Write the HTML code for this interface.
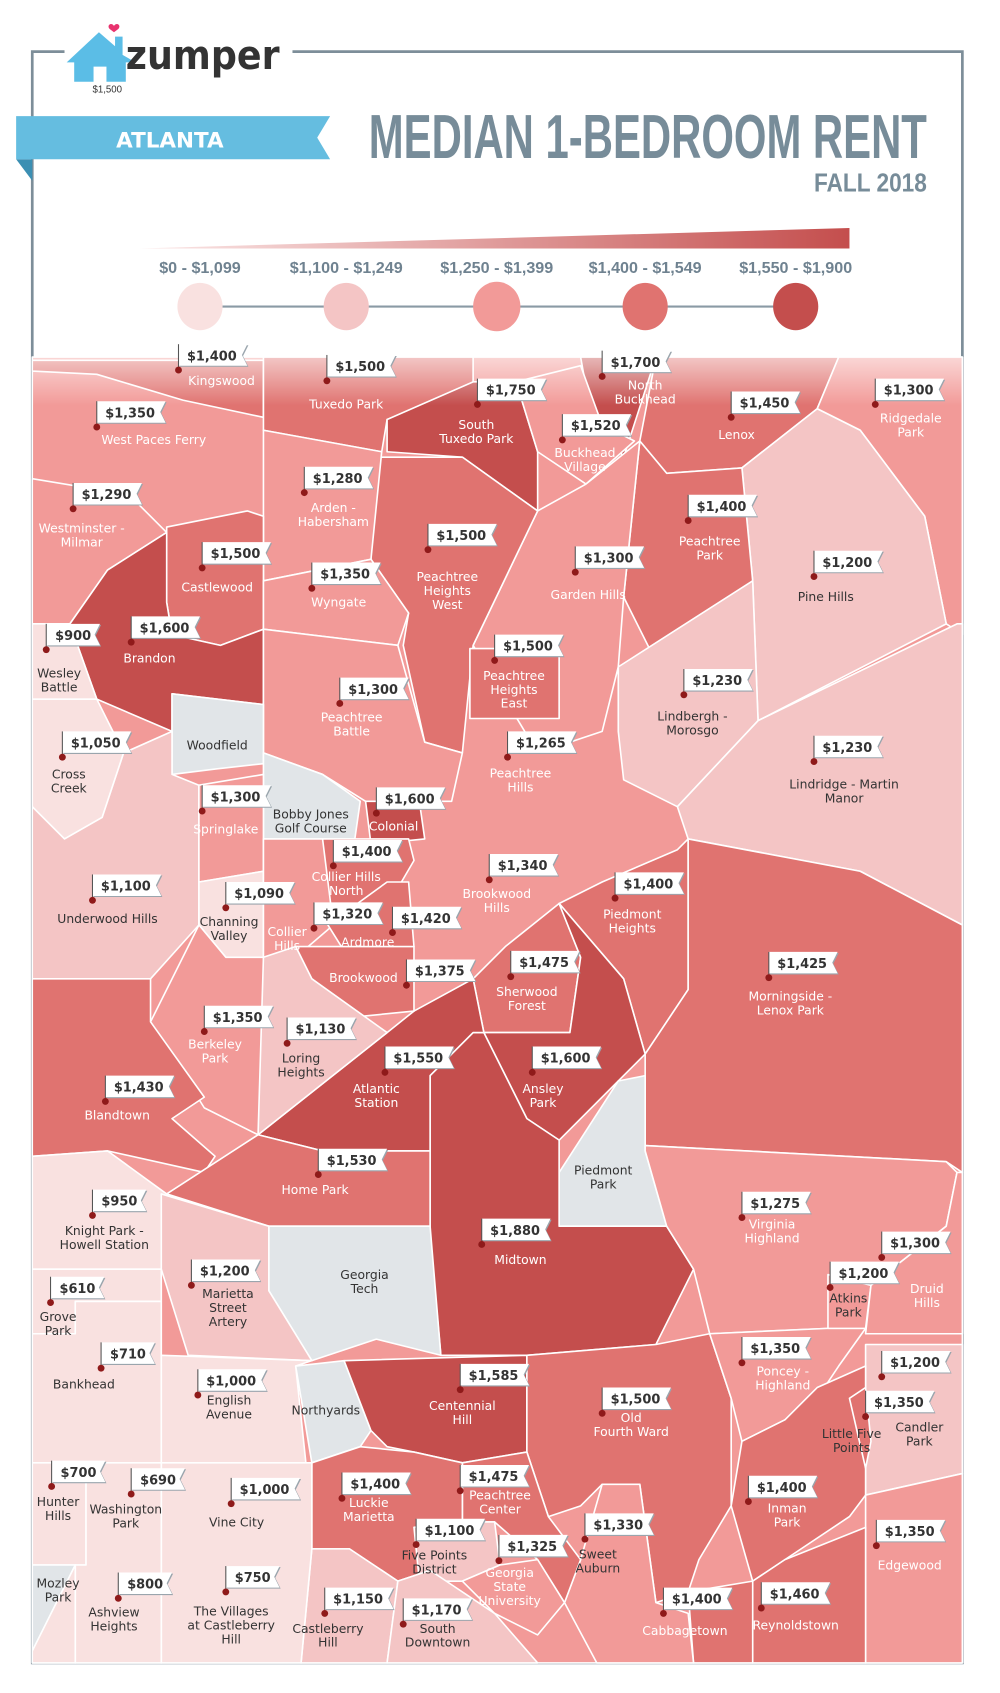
<!DOCTYPE html>
<html><head><meta charset="utf-8"><style>
html,body{margin:0;padding:0;background:#fff}
svg{display:block}
.fl{font:bold 12px "DejaVu Sans","Liberation Sans",sans-serif;fill:#333;text-anchor:middle}
.w{font:11.5px "DejaVu Sans","Liberation Sans",sans-serif;fill:#fff;text-anchor:middle}
.d{font:11.5px "DejaVu Sans","Liberation Sans",sans-serif;fill:#333;text-anchor:middle}
.m polygon{stroke:#fff;stroke-width:1.5;stroke-linejoin:round}
</style></head><body>
<svg width="1000" height="1693" viewBox="0 0 930 1574" preserveAspectRatio="none" xmlns="http://www.w3.org/2000/svg">
<defs>
<linearGradient id="gr" x1="0" x2="1"><stop offset="0" stop-color="#fbe8e8"/><stop offset="1" stop-color="#c44e4d"/></linearGradient>
<linearGradient id="fade" x1="0" y1="0" x2="0" y2="1"><stop offset="0" stop-color="#fff" stop-opacity=".6"/><stop offset="1" stop-color="#fff" stop-opacity="0"/></linearGradient>
<g id="f"><path d="M1 1h64l-5 10 5 10h-64z" fill="#9aa5ad"/><path d="M0 0h64l-5 10 5 10h-64z" fill="#fff"/><line x1="0" y1="0" x2="0" y2="24" stroke="#555" stroke-width="1"/><circle cx="0" cy="24" r="3.2" fill="#8f1a1a"/></g>
<g id="s"><path d="M1 1h50l-5 10 5 10h-50z" fill="#9aa5ad"/><path d="M0 0h50l-5 10 5 10h-50z" fill="#fff"/><line x1="0" y1="0" x2="0" y2="24" stroke="#555" stroke-width="1"/><circle cx="0" cy="24" r="3.2" fill="#8f1a1a"/></g>
</defs>
<!-- frame -->
<g stroke="#7d8e99" stroke-width="2.5" fill="none">
<path d="M60 48H30V1546H895V48H272"/>
</g>
<!-- logo -->
<path d="M62 58L92 30 107 43V34h7v17l12 7h-9v18h-18v-14h-12v14h-18V58z" fill="#5bbde6"/>
<path d="M106 24c-3-4-7 0-4 3l4 3 4-3c3-3-1-7-4-3z" fill="#e8336f"/>
<text x="117" y="64" font-family="'DejaVu Sans','Liberation Sans',sans-serif" font-weight="bold" font-size="37" fill="#333" textLength="143" lengthAdjust="spacingAndGlyphs">zumper</text>
<text x="86" y="86" font-family="'Liberation Sans',sans-serif" font-size="9" fill="#333">$1,500</text>
<!-- ribbon -->
<path d="M15 148H30V168z" fill="#3b8fb3"/>
<path d="M15 108H307L295 128 307 148H15z" fill="#65bde0"/>
<text x="158" y="137" font-family="'DejaVu Sans','Liberation Sans',sans-serif" font-weight="bold" font-size="20" fill="#fff" text-anchor="middle" textLength="100" lengthAdjust="spacingAndGlyphs">ATLANTA</text>
<text x="343" y="147" font-family="'Liberation Sans Narrow','Liberation Sans',sans-serif" font-weight="bold" font-size="58" fill="#778c99" textLength="519" lengthAdjust="spacingAndGlyphs">MEDIAN 1-BEDROOM RENT</text>
<text x="862" y="178" font-family="'Liberation Sans Narrow','Liberation Sans',sans-serif" font-weight="bold" font-size="24" fill="#778c99" text-anchor="end" textLength="105" lengthAdjust="spacingAndGlyphs">FALL 2018</text>
<!-- legend -->
<polygon points="130,231 790,212 790,231" fill="url(#gr)"/>
<g font-family="'Liberation Sans Narrow','Liberation Sans',sans-serif" font-weight="bold" font-size="15" fill="#6f8290" text-anchor="middle">
<text x="186" y="254">$0 - $1,099</text><text x="322" y="254">$1,100 - $1,249</text><text x="462" y="254">$1,250 - $1,399</text><text x="600" y="254">$1,400 - $1,549</text><text x="740" y="254">$1,550 - $1,900</text>
</g>
<line x1="186" y1="285" x2="740" y2="285" stroke="#8a9aa5" stroke-width="2"/>
<ellipse cx="186" cy="285" rx="21" ry="22" fill="#f9e1e0"/><ellipse cx="322" cy="285" rx="21" ry="22" fill="#f4c5c5"/><ellipse cx="462" cy="285" rx="22" ry="23" fill="#f29a98"/><ellipse cx="600" cy="285" rx="21" ry="22" fill="#e07370"/><ellipse cx="740" cy="285" rx="21" ry="22" fill="#c44e4d"/>
<!-- map -->
<g class="m">
<polygon points="30,332 895,332 895,1546 30,1546" fill="#f29a98"/>
<polygon points="30,335 245,335 245,388 170,372 90,348 30,345" fill="#e07370"/>
<polygon points="245,332 440,332 440,360 360,390 355,420 245,400" fill="#e07370"/>
<polygon points="360,390 440,355 480,355 500,420 500,475 430,425 360,420" fill="#c44e4d"/>
<polygon points="540,332 610,332 580,425 560,395 545,360" fill="#c44e4d"/>
<polygon points="480,355 540,340 560,395 590,410 545,450 500,420" fill="#f29a98"/>
<polygon points="610,332 780,332 760,380 690,435 620,440 595,410" fill="#e07370"/>
<polygon points="780,332 895,332 895,590 880,580 860,480 800,400 760,380" fill="#f29a98"/>
<polygon points="690,435 760,380 800,400 860,480 880,580 705,670 700,540" fill="#f4c5c5"/>
<polygon points="595,410 620,440 690,435 700,540 615,625 580,555" fill="#e07370"/>
<polygon points="500,475 545,450 595,410 580,555 575,620 560,680 500,700 440,600" fill="#f29a98"/>
<polygon points="345,425 430,425 500,475 440,600 430,700 395,690 375,600 380,570 345,520" fill="#e07370"/>
<polygon points="245,400 355,420 345,520 245,540" fill="#f29a98"/>
<polygon points="30,445 120,460 155,495 100,530 65,580 30,580" fill="#f29a98"/>
<polygon points="155,490 230,475 245,480 245,585 205,600 160,590 155,560" fill="#e07370"/>
<polygon points="100,530 155,495 155,560 160,590 205,600 245,585 245,655 160,645 160,680 90,650 65,580" fill="#c44e4d"/>
<polygon points="245,540 345,520 380,570 370,600 245,585" fill="#f29a98"/>
<polygon points="245,585 370,600 395,690 430,700 420,745 340,745 300,720 245,700" fill="#f29a98"/>
<polygon points="160,645 245,655 245,710 200,715 160,720" fill="#e1e5e8"/>
<polygon points="30,580 65,580 90,650 30,650" fill="#f9e1e0"/>
<polygon points="30,650 90,650 115,700 95,760 60,780 30,750" fill="#f9e1e0"/>
<polygon points="30,750 60,780 95,760 115,700 160,680 160,720 185,730 185,860 140,910 30,910" fill="#f4c5c5"/>
<polygon points="245,700 300,720 335,745 330,780 245,780" fill="#e1e5e8"/>
<polygon points="185,730 245,720 245,810 185,820" fill="#f29a98"/>
<polygon points="185,820 245,810 245,890 210,890 185,860" fill="#f9e1e0"/>
<polygon points="340,745 390,745 395,780 345,785" fill="#c44e4d"/>
<polygon points="300,780 380,780 385,800 350,860 310,850 300,820" fill="#e07370"/>
<polygon points="245,780 300,780 310,860 275,890 245,890" fill="#f29a98"/>
<polygon points="305,860 360,820 380,820 385,880 330,900" fill="#e07370"/>
<polygon points="437,603 520,603 520,668 437,668" fill="#e07370"/>
<polygon points="575,620 700,540 705,670 630,750 580,725 575,680" fill="#f4c5c5"/>
<polygon points="630,750 705,670 890,580 895,580 895,860 800,810 640,780" fill="#f4c5c5"/>
<polygon points="560,820 630,790 640,780 640,920 600,980 580,910 520,840" fill="#e07370"/>
<polygon points="640,780 800,810 895,860 895,1090 880,1080 600,1065 600,980 640,920" fill="#e07370"/>
<polygon points="470,880 520,840 540,890 530,960 450,960 440,910" fill="#e07370"/>
<polygon points="520,840 580,910 600,980 575,1005 520,1060 490,1040 450,960 530,960 540,890" fill="#c44e4d"/>
<polygon points="575,1005 600,1000 600,1070 620,1140 520,1140 520,1090" fill="#e1e5e8"/>
<polygon points="400,1000 440,960 450,960 490,1040 520,1060 520,1140 620,1140 645,1180 610,1250 490,1260 410,1260 400,1150" fill="#c44e4d"/>
<polygon points="240,1055 360,960 385,940 440,910 450,960 440,960 400,1000 400,1070 300,1070" fill="#c44e4d"/>
<polygon points="275,880 385,880 385,940 335,945 290,910" fill="#e07370"/>
<polygon points="245,890 275,880 290,910 360,960 240,1055 240,920" fill="#f4c5c5"/>
<polygon points="185,860 210,890 245,890 240,1055 190,1030 140,950" fill="#f29a98"/>
<polygon points="30,910 140,910 140,950 190,1020 160,1040 200,1075 190,1090 100,1070 30,1075" fill="#e07370"/>
<polygon points="155,1110 240,1055 300,1070 400,1070 400,1140 250,1140" fill="#e07370"/>
<polygon points="250,1140 400,1140 410,1260 350,1245 290,1265 250,1200" fill="#e1e5e8"/>
<polygon points="30,1075 100,1070 155,1110 150,1180 30,1180" fill="#f9e1e0"/>
<polygon points="150,1110 250,1140 250,1200 290,1265 175,1260 150,1180" fill="#f4c5c5"/>
<polygon points="30,1180 150,1180 150,1210 70,1210 70,1240 30,1240" fill="#f9e1e0"/>
<polygon points="30,1240 70,1240 70,1210 150,1210 150,1360 30,1360" fill="#f9e1e0"/>
<polygon points="150,1260 290,1265 275,1270 285,1365 150,1360" fill="#f9e1e0"/>
<polygon points="275,1270 320,1265 345,1330 335,1345 290,1360" fill="#e1e5e8"/>
<polygon points="320,1265 490,1260 490,1350 430,1360 385,1350 360,1345 345,1330" fill="#c44e4d"/>
<polygon points="490,1260 610,1250 660,1240 680,1300 680,1400 650,1450 640,1480 610,1490 595,1380 560,1380 540,1400 510,1410 490,1350" fill="#e07370"/>
<polygon points="600,1065 880,1080 890,1090 880,1140 810,1195 770,1235 660,1240 645,1180 620,1140 600,1070" fill="#f29a98"/>
<polygon points="660,1240 770,1235 805,1235 780,1270 760,1300 730,1320 690,1340 680,1300" fill="#f29a98"/>
<polygon points="770,1185 810,1195 805,1235 770,1235" fill="#f29a98"/>
<polygon points="810,1195 880,1140 890,1090 895,1090 895,1240 805,1240" fill="#f29a98"/>
<polygon points="805,1250 895,1250 895,1370 805,1390" fill="#f4c5c5"/>
<polygon points="690,1340 730,1320 760,1290 805,1270 805,1390 790,1410 730,1450 700,1470 680,1400" fill="#e07370"/>
<polygon points="790,1300 805,1290 810,1340 805,1365" fill="#e07370"/>
<polygon points="805,1390 895,1370 895,1546 805,1546" fill="#f29a98"/>
<polygon points="700,1470 730,1450 805,1420 805,1546 700,1546" fill="#e07370"/>
<polygon points="640,1480 700,1470 700,1546 645,1546" fill="#e07370"/>
<polygon points="560,1380 595,1380 610,1490 640,1500 645,1546 555,1546 525,1490 540,1450" fill="#f29a98"/>
<polygon points="430,1360 490,1350 510,1410 540,1450 525,1490 500,1450 460,1415 430,1415" fill="#e07370"/>
<polygon points="290,1360 335,1345 385,1350 430,1360 430,1415 400,1460 370,1470 325,1440 290,1440" fill="#e07370"/>
<polygon points="385,1420 430,1415 460,1415 465,1455 430,1470 390,1470" fill="#f4c5c5"/>
<polygon points="430,1470 465,1455 500,1450 525,1490 500,1520 460,1500" fill="#f29a98"/>
<polygon points="290,1440 325,1440 370,1470 360,1546 280,1546" fill="#f4c5c5"/>
<polygon points="370,1470 400,1460 460,1500 500,1546 360,1546" fill="#f4c5c5"/>
<polygon points="150,1360 290,1360 290,1440 280,1546 150,1546" fill="#f9e1e0"/>
<polygon points="30,1360 80,1360 80,1455 30,1455" fill="#f9e1e0"/>
<polygon points="80,1360 150,1360 150,1546 70,1546 70,1455 80,1455" fill="#f9e1e0"/>
<polygon points="30,1455 70,1455 30,1535" fill="#e1e5e8"/>
<polygon points="70,1455 70,1546 30,1546 30,1535" fill="#f9e1e0"/>
</g>
<rect x="30" y="332" width="865" height="45" fill="url(#fade)"/>
<!-- flags -->
<g class="fl">
<g transform="translate(166,320)"><use href="#f"/><text x="31" y="15">$1,400</text></g>
<g transform="translate(304,330)"><use href="#f"/><text x="31" y="15">$1,500</text></g>
<g transform="translate(444,352)"><use href="#f"/><text x="31" y="15">$1,750</text></g>
<g transform="translate(560,326)"><use href="#f"/><text x="31" y="15">$1,700</text></g>
<g transform="translate(680,364)"><use href="#f"/><text x="31" y="15">$1,450</text></g>
<g transform="translate(814,352)"><use href="#f"/><text x="31" y="15">$1,300</text></g>
<g transform="translate(90,373)"><use href="#f"/><text x="31" y="15">$1,350</text></g>
<g transform="translate(523,385)"><use href="#f"/><text x="31" y="15">$1,520</text></g>
<g transform="translate(283,434)"><use href="#f"/><text x="31" y="15">$1,280</text></g>
<g transform="translate(68,449)"><use href="#f"/><text x="31" y="15">$1,290</text></g>
<g transform="translate(640,460)"><use href="#f"/><text x="31" y="15">$1,400</text></g>
<g transform="translate(398,487)"><use href="#f"/><text x="31" y="15">$1,500</text></g>
<g transform="translate(535,508)"><use href="#f"/><text x="31" y="15">$1,300</text></g>
<g transform="translate(757,512)"><use href="#f"/><text x="31" y="15">$1,200</text></g>
<g transform="translate(188,504)"><use href="#f"/><text x="31" y="15">$1,500</text></g>
<g transform="translate(290,523)"><use href="#f"/><text x="31" y="15">$1,350</text></g>
<g transform="translate(122,573)"><use href="#f"/><text x="31" y="15">$1,600</text></g>
<g transform="translate(43,580)"><use href="#s"/><text x="25" y="15">$900</text></g>
<g transform="translate(460,590)"><use href="#f"/><text x="31" y="15">$1,500</text></g>
<g transform="translate(636,622)"><use href="#f"/><text x="31" y="15">$1,230</text></g>
<g transform="translate(316,630)"><use href="#f"/><text x="31" y="15">$1,300</text></g>
<g transform="translate(58,680)"><use href="#f"/><text x="31" y="15">$1,050</text></g>
<g transform="translate(472,680)"><use href="#f"/><text x="31" y="15">$1,265</text></g>
<g transform="translate(757,684)"><use href="#f"/><text x="31" y="15">$1,230</text></g>
<g transform="translate(188,730)"><use href="#f"/><text x="31" y="15">$1,300</text></g>
<g transform="translate(350,732)"><use href="#f"/><text x="31" y="15">$1,600</text></g>
<g transform="translate(310,781)"><use href="#f"/><text x="31" y="15">$1,400</text></g>
<g transform="translate(455,794)"><use href="#f"/><text x="31" y="15">$1,340</text></g>
<g transform="translate(572,811)"><use href="#f"/><text x="31" y="15">$1,400</text></g>
<g transform="translate(86,813)"><use href="#f"/><text x="31" y="15">$1,100</text></g>
<g transform="translate(210,820)"><use href="#f"/><text x="31" y="15">$1,090</text></g>
<g transform="translate(292,839)"><use href="#f"/><text x="31" y="15">$1,320</text></g>
<g transform="translate(365,843)"><use href="#f"/><text x="31" y="15">$1,420</text></g>
<g transform="translate(378,892)"><use href="#f"/><text x="31" y="15">$1,375</text></g>
<g transform="translate(475,884)"><use href="#f"/><text x="31" y="15">$1,475</text></g>
<g transform="translate(715,885)"><use href="#f"/><text x="31" y="15">$1,425</text></g>
<g transform="translate(190,935)"><use href="#f"/><text x="31" y="15">$1,350</text></g>
<g transform="translate(267,946)"><use href="#f"/><text x="31" y="15">$1,130</text></g>
<g transform="translate(358,973)"><use href="#f"/><text x="31" y="15">$1,550</text></g>
<g transform="translate(495,973)"><use href="#f"/><text x="31" y="15">$1,600</text></g>
<g transform="translate(98,1000)"><use href="#f"/><text x="31" y="15">$1,430</text></g>
<g transform="translate(296,1068)"><use href="#f"/><text x="31" y="15">$1,530</text></g>
<g transform="translate(86,1106)"><use href="#s"/><text x="25" y="15">$950</text></g>
<g transform="translate(690,1108)"><use href="#f"/><text x="31" y="15">$1,275</text></g>
<g transform="translate(448,1133)"><use href="#f"/><text x="31" y="15">$1,880</text></g>
<g transform="translate(820,1145)"><use href="#f"/><text x="31" y="15">$1,300</text></g>
<g transform="translate(178,1171)"><use href="#f"/><text x="31" y="15">$1,200</text></g>
<g transform="translate(772,1173)"><use href="#f"/><text x="31" y="15">$1,200</text></g>
<g transform="translate(47,1187)"><use href="#s"/><text x="25" y="15">$610</text></g>
<g transform="translate(690,1243)"><use href="#f"/><text x="31" y="15">$1,350</text></g>
<g transform="translate(820,1256)"><use href="#f"/><text x="31" y="15">$1,200</text></g>
<g transform="translate(94,1248)"><use href="#s"/><text x="25" y="15">$710</text></g>
<g transform="translate(428,1268)"><use href="#f"/><text x="31" y="15">$1,585</text></g>
<g transform="translate(184,1273)"><use href="#f"/><text x="31" y="15">$1,000</text></g>
<g transform="translate(560,1290)"><use href="#f"/><text x="31" y="15">$1,500</text></g>
<g transform="translate(805,1293)"><use href="#f"/><text x="31" y="15">$1,350</text></g>
<g transform="translate(48,1358)"><use href="#s"/><text x="25" y="15">$700</text></g>
<g transform="translate(122,1365)"><use href="#s"/><text x="25" y="15">$690</text></g>
<g transform="translate(215,1374)"><use href="#f"/><text x="31" y="15">$1,000</text></g>
<g transform="translate(318,1369)"><use href="#f"/><text x="31" y="15">$1,400</text></g>
<g transform="translate(428,1362)"><use href="#f"/><text x="31" y="15">$1,475</text></g>
<g transform="translate(696,1372)"><use href="#f"/><text x="31" y="15">$1,400</text></g>
<g transform="translate(387,1412)"><use href="#f"/><text x="31" y="15">$1,100</text></g>
<g transform="translate(544,1407)"><use href="#f"/><text x="31" y="15">$1,330</text></g>
<g transform="translate(464,1427)"><use href="#f"/><text x="31" y="15">$1,325</text></g>
<g transform="translate(815,1413)"><use href="#f"/><text x="31" y="15">$1,350</text></g>
<g transform="translate(110,1462)"><use href="#s"/><text x="25" y="15">$800</text></g>
<g transform="translate(210,1456)"><use href="#s"/><text x="25" y="15">$750</text></g>
<g transform="translate(302,1476)"><use href="#f"/><text x="31" y="15">$1,150</text></g>
<g transform="translate(375,1486)"><use href="#f"/><text x="31" y="15">$1,170</text></g>
<g transform="translate(617,1476)"><use href="#f"/><text x="31" y="15">$1,400</text></g>
<g transform="translate(708,1471)"><use href="#f"/><text x="31" y="15">$1,460</text></g>
</g>
<!-- names -->
<text class="w" x="206" y="358">Kingswood</text>
<text class="w" x="322" y="380">Tuxedo Park</text>
<text class="w" x="443" y="399">South</text><text class="w" x="443" y="412">Tuxedo Park</text>
<text class="w" x="600" y="362">North</text><text class="w" x="600" y="375">Buckhead</text>
<text class="w" x="685" y="408">Lenox</text>
<text class="w" x="847" y="393">Ridgedale</text><text class="w" x="847" y="406">Park</text>
<text class="w" x="143" y="413">West Paces Ferry</text>
<text class="w" x="544" y="425">Buckhead</text><text class="w" x="544" y="438">Village</text>
<text class="w" x="310" y="476">Arden -</text><text class="w" x="310" y="489">Habersham</text>
<text class="w" x="76" y="495">Westminster -</text><text class="w" x="76" y="508">Milmar</text>
<text class="w" x="660" y="507">Peachtree</text><text class="w" x="660" y="520">Park</text>
<text class="w" x="416" y="540">Peachtree</text><text class="w" x="416" y="553">Heights</text><text class="w" x="416" y="566">West</text>
<text class="w" x="547" y="557">Garden Hills</text>
<text class="d" x="768" y="559">Pine Hills</text>
<text class="w" x="202" y="550">Castlewood</text>
<text class="w" x="315" y="564">Wyngate</text>
<text class="w" x="139" y="616">Brandon</text>
<text class="d" x="55" y="630">Wesley</text><text class="d" x="55" y="643">Battle</text>
<text class="w" x="478" y="632">Peachtree</text><text class="w" x="478" y="645">Heights</text><text class="w" x="478" y="658">East</text>
<text class="d" x="644" y="670">Lindbergh -</text><text class="d" x="644" y="683">Morosgo</text>
<text class="w" x="327" y="671">Peachtree</text><text class="w" x="327" y="684">Battle</text>
<text class="d" x="64" y="724">Cross</text><text class="d" x="64" y="737">Creek</text>
<text class="d" x="202" y="697">Woodfield</text>
<text class="w" x="484" y="723">Peachtree</text><text class="w" x="484" y="736">Hills</text>
<text class="d" x="785" y="733">Lindridge - Martin</text><text class="d" x="785" y="746">Manor</text>
<text class="w" x="210" y="775">Springlake</text>
<text class="d" x="289" y="761">Bobby Jones</text><text class="d" x="289" y="774">Golf Course</text>
<text class="w" x="366" y="772">Colonial</text>
<text class="w" x="322" y="819">Collier Hills</text><text class="w" x="322" y="832">North</text>
<text class="w" x="462" y="835">Brookwood</text><text class="w" x="462" y="848">Hills</text>
<text class="w" x="588" y="854">Piedmont</text><text class="w" x="588" y="867">Heights</text>
<text class="d" x="100" y="858">Underwood Hills</text>
<text class="d" x="213" y="861">Channing</text><text class="d" x="213" y="874">Valley</text>
<text class="w" x="267" y="870">Collier</text><text class="w" x="267" y="883">Hills</text>
<text class="w" x="342" y="880">Ardmore</text>
<text class="w" x="338" y="913">Brookwood</text>
<text class="w" x="490" y="926">Sherwood</text><text class="w" x="490" y="939">Forest</text>
<text class="w" x="735" y="930">Morningside -</text><text class="w" x="735" y="943">Lenox Park</text>
<text class="w" x="200" y="975">Berkeley</text><text class="w" x="200" y="988">Park</text>
<text class="d" x="280" y="988">Loring</text><text class="d" x="280" y="1001">Heights</text>
<text class="w" x="350" y="1016">Atlantic</text><text class="w" x="350" y="1029">Station</text>
<text class="w" x="505" y="1016">Ansley</text><text class="w" x="505" y="1029">Park</text>
<text class="w" x="109" y="1041">Blandtown</text>
<text class="w" x="293" y="1110">Home Park</text>
<text class="d" x="561" y="1092">Piedmont</text><text class="d" x="561" y="1105">Park</text>
<text class="d" x="97" y="1148">Knight Park -</text><text class="d" x="97" y="1161">Howell Station</text>
<text class="w" x="718" y="1142">Virginia</text><text class="w" x="718" y="1155">Highland</text>
<text class="w" x="484" y="1175">Midtown</text>
<text class="w" x="862" y="1202">Druid</text><text class="w" x="862" y="1215">Hills</text>
<text class="d" x="212" y="1207">Marietta</text><text class="d" x="212" y="1220">Street</text><text class="d" x="212" y="1233">Artery</text>
<text class="d" x="339" y="1189">Georgia</text><text class="d" x="339" y="1202">Tech</text>
<text class="d" x="789" y="1211">Atkins</text><text class="d" x="789" y="1224">Park</text>
<text class="d" x="54" y="1228">Grove</text><text class="d" x="54" y="1241">Park</text>
<text class="w" x="728" y="1279">Poncey -</text><text class="w" x="728" y="1292">Highland</text>
<text class="d" x="855" y="1331">Candler</text><text class="d" x="855" y="1344">Park</text>
<text class="d" x="78" y="1291">Bankhead</text>
<text class="w" x="430" y="1311">Centennial</text><text class="w" x="430" y="1324">Hill</text>
<text class="d" x="213" y="1306">English</text><text class="d" x="213" y="1319">Avenue</text>
<text class="d" x="303" y="1315">Northyards</text>
<text class="w" x="587" y="1322">Old</text><text class="w" x="587" y="1335">Fourth Ward</text>
<text class="d" x="792" y="1337">Little Five</text><text class="d" x="792" y="1350">Points</text>
<text class="d" x="54" y="1400">Hunter</text><text class="d" x="54" y="1413">Hills</text>
<text class="d" x="117" y="1407">Washington</text><text class="d" x="117" y="1420">Park</text>
<text class="d" x="220" y="1419">Vine City</text>
<text class="w" x="343" y="1401">Luckie</text><text class="w" x="343" y="1414">Marietta</text>
<text class="w" x="465" y="1394">Peachtree</text><text class="w" x="465" y="1407">Center</text>
<text class="w" x="732" y="1406">Inman</text><text class="w" x="732" y="1419">Park</text>
<text class="d" x="404" y="1450">Five Points</text><text class="d" x="404" y="1463">District</text>
<text class="d" x="556" y="1449">Sweet</text><text class="d" x="556" y="1462">Auburn</text>
<text class="w" x="474" y="1466">Georgia</text><text class="w" x="474" y="1479">State</text><text class="w" x="474" y="1492">University</text>
<text class="w" x="846" y="1459">Edgewood</text>
<text class="d" x="54" y="1476">Mozley</text><text class="d" x="54" y="1489">Park</text>
<text class="d" x="106" y="1503">Ashview</text><text class="d" x="106" y="1516">Heights</text>
<text class="d" x="215" y="1502">The Villages</text><text class="d" x="215" y="1515">at Castleberry</text><text class="d" x="215" y="1528">Hill</text>
<text class="d" x="305" y="1518">Castleberry</text><text class="d" x="305" y="1531">Hill</text>
<text class="d" x="407" y="1518">South</text><text class="d" x="407" y="1531">Downtown</text>
<text class="w" x="637" y="1520">Cabbagetown</text>
<text class="w" x="740" y="1515">Reynoldstown</text>
</svg>
</body></html>
